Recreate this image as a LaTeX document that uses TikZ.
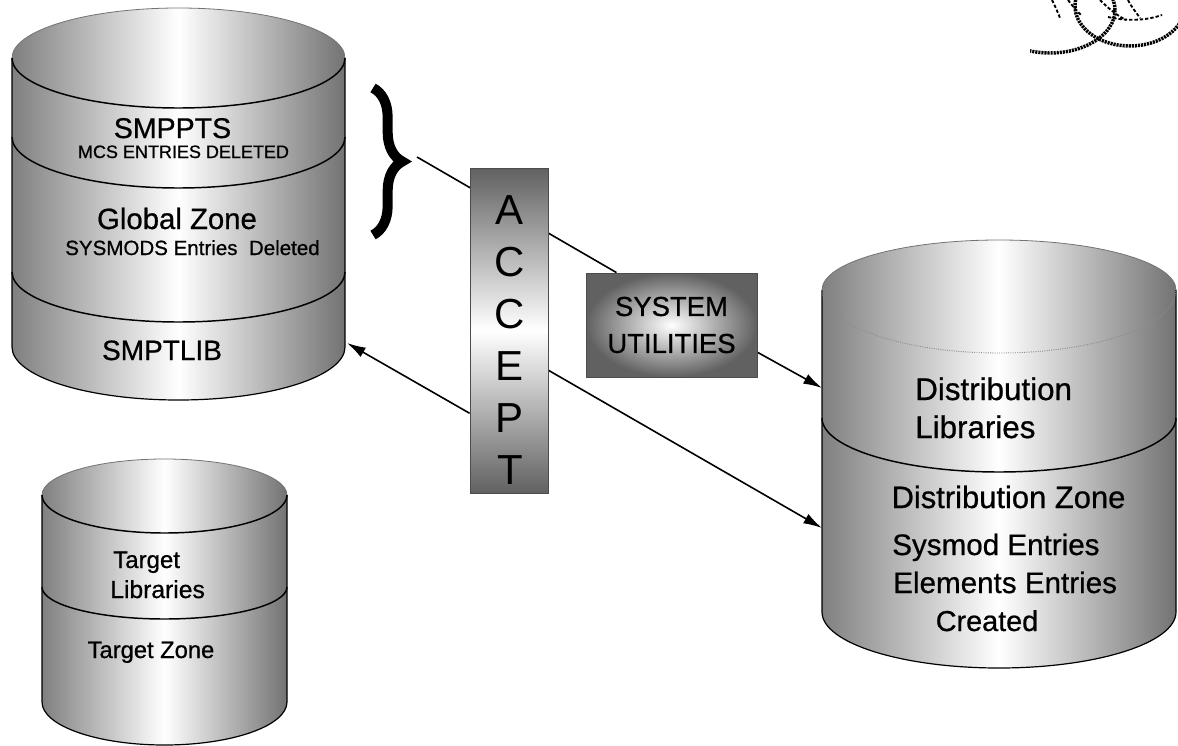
\documentclass[tikz,border=0pt]{standalone}
\usepackage{fontspec}
\setmainfont{Liberation Sans}[FakeBold=0.7]
\newfontfamily\plainsans{Liberation Sans}
\usetikzlibrary{arrows.meta,calc,decorations.pathreplacing}
\pgfdeclarelayer{drums}
\pgfdeclarelayer{links}
\pgfsetlayers{drums,links,main}

\begin{document}
\begin{tikzpicture}[x=0.75pt,y=0.75pt,
  lbl/.style={inner sep=0pt, text=black},
  drumfill/.style={left color=black!50, right color=black!55, middle color=white},
  drumedge/.style={line width=0.9pt, black},
  drumtop/.style={line width=0.6pt, black!55},
  drumline/.style={line width=1.1pt, black},
  faintline/.style={line width=0.7pt, black!45, densely dotted},
  link/.style={line width=1.2pt, black},
  linkarrow/.style={link, -{Latex[length=14pt,width=8pt]}},
  accbox/.style={draw=black!70, line width=0.6pt, top color=black!62, bottom color=black!62, middle color=white,
                 minimum width=58.5pt, minimum height=243.75pt, inner sep=0pt},
  subox/.style={draw=black!70, line width=0.6pt, inner color=white, outer color=black!62,
                minimum width=128.25pt, minimum height=78pt, inner sep=0pt, align=center,
                font=\fontsize{20.6}{27.75}\selectfont},
  accletter/.style={lbl, anchor=base, font=\plainsans\fontsize{31.5}{33}\selectfont},
  globe/.style={line width=2.6pt, dash pattern=on 1.6pt off 0.7pt},
  globedash/.style={line width=1.4pt, dash pattern=on 2.5pt off 1.5pt},
  bracestyle/.style={line width=7.5pt, decorate, decoration={brace, amplitude=22pt, aspect=0.5}}
]
\useasboundingbox (0,0) rectangle (1178,-746);

% ---------------- drums (cylinders) ----------------
\begin{pgfonlayer}{drums}
  % SMP data sets drum
  \shade[drumfill] (12,-58) arc[start angle=180,end angle=0,x radius=166.5,y radius=50]
     -- (345,-347) arc[start angle=0,end angle=-180,x radius=166.5,y radius=53] -- cycle;
  \draw[drumtop] (12,-58) arc[start angle=180,end angle=0,x radius=166.5,y radius=50];
  \draw[drumedge] (12,-58) -- (12,-347) arc[start angle=180,end angle=360,x radius=166.5,y radius=53] -- (345,-58);
  \draw[drumline] (12,-58) arc[start angle=180,end angle=360,x radius=166.5,y radius=50];
  \draw[drumline] (12,-137) arc[start angle=180,end angle=360,x radius=166.5,y radius=51];
  \draw[drumline] (12,-272) arc[start angle=180,end angle=360,x radius=166.5,y radius=50];

  % distribution drum
  \shade[drumfill] (822,-290) arc[start angle=180,end angle=0,x radius=177,y radius=50]
     -- (1176,-612) arc[start angle=0,end angle=-180,x radius=177,y radius=56] -- cycle;
  \draw[drumtop] (822,-290) arc[start angle=180,end angle=0,x radius=177,y radius=50];
  \draw[drumedge] (822,-290) -- (822,-612) arc[start angle=180,end angle=360,x radius=177,y radius=56] -- (1176,-290);
  \draw[faintline] (822,-290) arc[start angle=180,end angle=360,x radius=177,y radius=63];
  \draw[drumline] (822,-418) arc[start angle=180,end angle=360,x radius=177,y radius=54];

  % target drum
  \shade[drumfill] (42,-495) arc[start angle=180,end angle=0,x radius=122.5,y radius=36]
     -- (287,-702) arc[start angle=0,end angle=-180,x radius=122.5,y radius=43] -- cycle;
  \draw[drumtop] (42,-495) arc[start angle=180,end angle=0,x radius=122.5,y radius=36];
  \draw[drumedge] (42,-495) -- (42,-702) arc[start angle=180,end angle=360,x radius=122.5,y radius=43] -- (287,-495);
  \draw[drumline] (42,-495) arc[start angle=180,end angle=360,x radius=122.5,y radius=38];
  \draw[drumline] (42,-587) arc[start angle=180,end angle=360,x radius=122.5,y radius=32];
\end{pgfonlayer}

% ---------------- drum labels ----------------
\node[lbl, anchor=base, font=\fontsize{21.4}{24}\selectfont] (smppts) at (172.5,-138) {SMPPTS};
\node[lbl, anchor=base, font=\fontsize{13.5}{15}\selectfont] (mcs) at (183.5,-158) {MCS ENTRIES DELETED};
\node[lbl, anchor=base, font=\fontsize{22}{25}\selectfont] (gzone) at (177,-229) {Global Zone};
\node[lbl, anchor=base, font=\fontsize{15.4}{17}\selectfont] (sysmods) at (192.5,-255) {SYSMODS Entries~~Deleted};
\node[lbl, anchor=base, font=\fontsize{21}{24}\selectfont] (smptlib) at (162,-360) {SMPTLIB};

\node[lbl, anchor=base west, font=\fontsize{23.5}{27}\selectfont] (dist) at (915,-400) {Distribution};
\node[lbl, anchor=base west, font=\fontsize{23.5}{27}\selectfont] (distlib) at (915,-438) {Libraries};
\node[lbl, anchor=base, font=\fontsize{23.2}{27}\selectfont] (dzone) at (1008.5,-508) {Distribution Zone};
\node[lbl, anchor=base west, font=\fontsize{22.2}{26}\selectfont] (sysent) at (892,-555) {Sysmod Entries};
\node[lbl, anchor=base west, font=\fontsize{22.2}{26}\selectfont] (elent) at (893,-593) {Elements Entries};
\node[lbl, anchor=base, font=\fontsize{21.6}{26}\selectfont] (created) at (987,-631) {Created};

\node[lbl, anchor=base west, font=\fontsize{18}{21}\selectfont] (tgt) at (113,-568) {Target};
\node[lbl, anchor=base west, font=\fontsize{18.5}{21}\selectfont] (tgtlib) at (110,-598) {Libraries};
\node[lbl, anchor=base, font=\fontsize{17.8}{21}\selectfont] (tzone) at (151,-658) {Target Zone};

% ---------------- ACCEPT and SYSTEM UTILITIES ----------------
\node[accbox] (acc) at (509,-330.5) {};
\foreach \l [count=\i from 0] in {A,C,C,E,P,T}
  \node[accletter] (acc-\i) at (510,{-224-52*\i}) {\l};
\node[subox] (su) at (671.5,-325) {SYSTEM\\UTILITIES};

% ---------------- brace and connectors ----------------
\draw[bracestyle] (373,-88) -- (373,-235);
\coordinate (bt) at (417,-157);
\coordinate (smptin) at (347,-343);
\coordinate (dlin) at (822,-388);
\coordinate (dzin) at (822,-528);
\begin{pgfonlayer}{links}
  \draw[link] (bt) -- ($(su.north west)!0.18!(su.north east)$);
  \draw[linkarrow] ($(acc.north west)!0.754!(acc.south west)$) -- (smptin);
  \draw[linkarrow] ($(su.north east)!0.76!(su.south east)$) -- (dlin);
  \draw[linkarrow] ($(acc.north east)!0.622!(acc.south east)$) -- (dzin);
\end{pgfonlayer}

% ---------------- globe emblem, corner ----------------
\begin{scope}
  \clip (1030,0) rectangle (1178,-60);
  \draw[globe] (1050,-10) ellipse[x radius=65, y radius=43];
  \draw[globe] (1130,-6) ellipse[x radius=55, y radius=40];
  \draw[globedash] (1100,0) .. controls (1110,-10) and (1118,-16) .. (1126,-20);
  \draw[globedash] (1128,0) .. controls (1132,-8) and (1136,-12) .. (1140,-18);
  \draw[globedash] (1108,-17) .. controls (1125,-21) and (1145,-21) .. (1162,-15);
  \draw[globedash] (1052,0) .. controls (1056,-8) and (1058,-13) .. (1060,-18);
  \draw[globedash] (1068,0) .. controls (1074,-8) and (1078,-12) .. (1082,-16);
\end{scope}
\end{tikzpicture}
\end{document}
